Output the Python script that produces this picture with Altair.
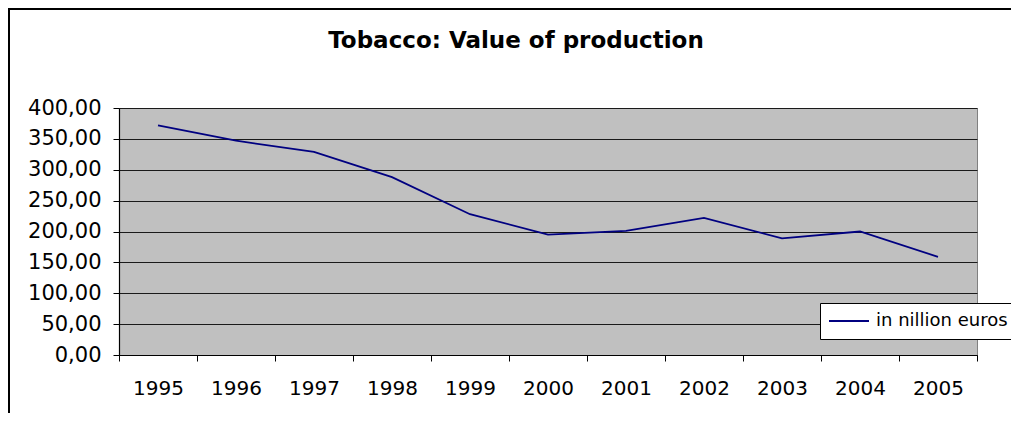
import altair as alt
import pandas as pd

years = ["1995", "1996", "1997", "1998", "1999", "2000", "2001", "2002", "2003", "2004", "2005"]
values = [372, 347, 329, 288, 228, 195, 201, 222, 189, 200, 159]
series_name = "in nillion euros"
title_text = "Tobacco: Value of production"
y_ticks = [0, 50, 100, 150, 200, 250, 300, 350, 400]

df = pd.DataFrame({"year": years, "value": values, "series": [series_name] * len(years)})

FONT = "DejaVu Sans"

line = alt.Chart(df).mark_line(strokeWidth=1.8).encode(
    x=alt.X("year:O", sort=years,
            scale=alt.Scale(paddingInner=0, paddingOuter=0),
            axis=alt.Axis(title=None, labelAngle=0, tickBand="extent", grid=False,
                          tickSize=6, labelPadding=17, labelFontSize=20, labelFont=FONT,
                          labelColor="black", tickColor="black", domainColor="black",
                          domainWidth=1.2)),
    y=alt.Y("value:Q",
            scale=alt.Scale(domain=[0, 400], nice=False),
            axis=alt.Axis(title=None, values=y_ticks, grid=True, tickSize=6,
                          labelPadding=12, labelFontSize=21, labelFont=FONT,
                          labelColor="black", tickColor="black", domainColor="black",
                          domainWidth=1.2, gridColor="#1a1a1a", gridWidth=1, gridOpacity=1,
                          labelExpr="replace(format(datum.value, '.2f'), '.', ',')")),
    color=alt.Color("series:N",
                    scale=alt.Scale(range=["#000080"]),
                    legend=alt.Legend(title=None, orient="none", legendX=701, legendY=195,
                                      symbolType="stroke", symbolSize=1600, symbolStrokeWidth=2,
                                      labelFontSize=18, labelFont=FONT, labelColor="black",
                                      labelOffset=6, padding=8, clipHeight=20,
                                      fillColor="white", strokeColor="black")),
)

frame = alt.Chart(alt.Data(values=[{"k": 1}])).mark_rect(
    fillOpacity=0, stroke="black", strokeWidth=2
).encode(x=alt.value(-110), x2=alt.value(920), y=alt.value(-99), y2=alt.value(330))

title = alt.Chart(alt.Data(values=[{"t": title_text}])).mark_text(
    font=FONT, fontSize=23, fontWeight="bold", color="black", align="center", baseline="alphabetic"
).encode(x=alt.value(397), y=alt.value(-60), text="t:N")

chart = alt.layer(frame, line, title).properties(
    width=858, height=247,
    background="white",
    padding={"left": 111, "top": 100, "right": 34, "bottom": 58},
    autosize=alt.AutoSizeParams(type="none"),
).configure_view(
    fill="#C0C0C0", stroke="#808080", strokeWidth=1
)

chart.save("out.html", embed_options={"renderer": "svg", "actions": False})
